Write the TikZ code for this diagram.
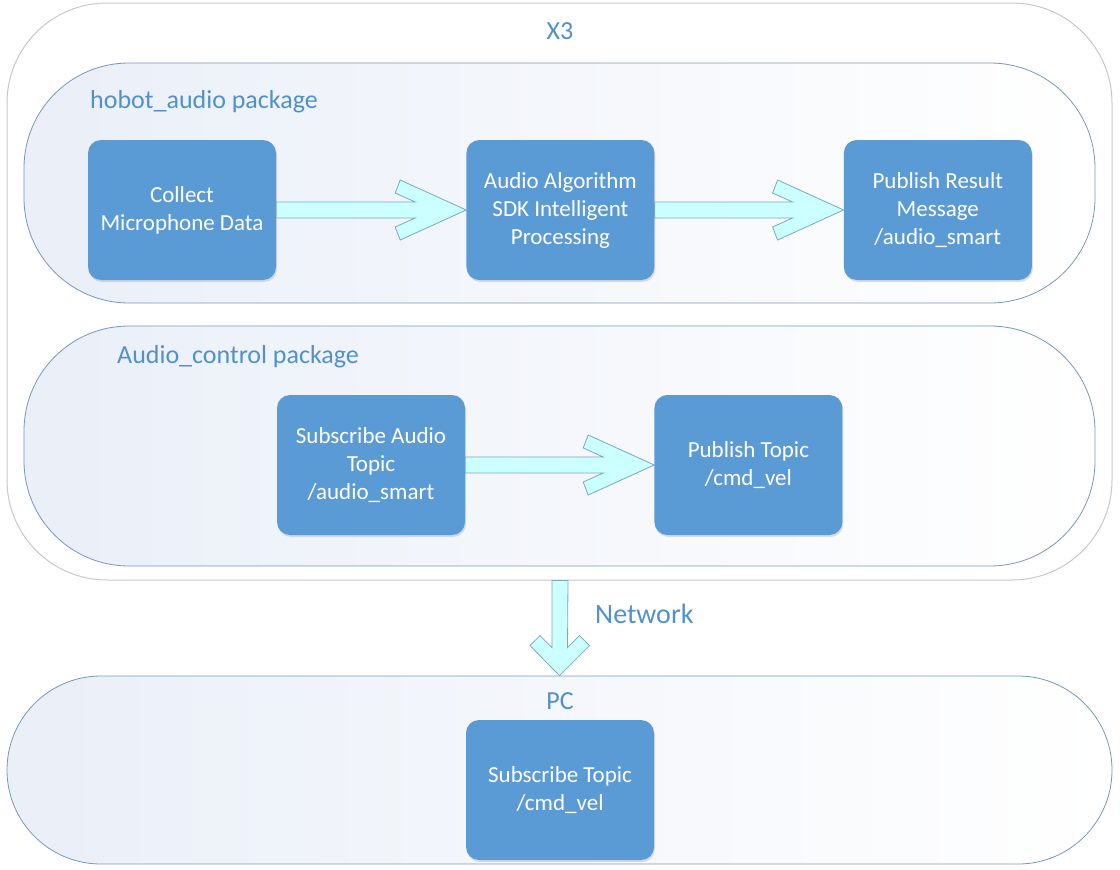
\documentclass[tikz,border=0pt]{standalone}
\usepackage{fontspec}
\setmainfont{Carlito}
\usetikzlibrary{positioning, calc, shadows}

\definecolor{boxblue}{RGB}{91,155,213}
\definecolor{titleblue}{RGB}{80,145,205}
\definecolor{pilledge}{RGB}{120,152,188}
\definecolor{pillfill}{RGB}{234,239,248}
\definecolor{outeredge}{RGB}{200,200,200}
\definecolor{arrowfill}{RGB}{204,255,255}
\definecolor{arrowedge}{RGB}{120,170,195}

\tikzset{
  task/.style={rectangle, rounded corners=13pt, fill=boxblue, text=white, align=center,
    minimum width=188pt, minimum height=140pt, font=\fontsize{23}{28}\selectfont,
    drop shadow={opacity=0.25, shadow xshift=1pt, shadow yshift=-2pt}},
  outerbox/.style={rectangle, rounded corners=100pt, draw=outeredge, fill=white, line width=1pt},
  pill/.style={rectangle, rounded corners=105pt, draw=pilledge, left color=pillfill, right color=white,
    line width=0.8pt, minimum width=1071pt, minimum height=240pt},
  heading/.style={text=titleblue, inner sep=0pt, font=\fontsize{26}{31}\selectfont},
  blockarrow/.style={draw=arrowedge, fill=arrowfill, line width=0.8pt, line join=miter}
}

% fat arrow from the east side of #1 to the west side of #2
\newcommand{\fatarrow}[2]{%
  \draw[blockarrow] ($(#1.east)+(0,-8)$) -- ($(#2.west)+(-51,-8)$) -- ++(-20,-9) -- ++(5,-13)
    -- (#2.west) -- ++(-66,30) -- ++(-5,-13) -- ++(20,-9) -- ($(#1.east)+(0,8)$) -- cycle;}

\begin{document}
\begin{tikzpicture}[x=1pt, y=-1pt]
    \useasboundingbox (0,0) rectangle (1120,870);

    %containers
    \node[outerbox, minimum width=1105pt, minimum height=577pt] (x3) at (559.5,291.5) {};
    \node[pill] (hobot) at (559.5,183) {};
    \node[pill] (ctrl) at (559.5,446) {};
    \node[pill, minimum width=1105pt, minimum height=188pt, rounded corners=94pt] (pcbox) at (559.5,770) {};

    %headings
    \node[heading] (x3title) at (560,31) {X3};
    \node[heading, anchor=west] (hobottitle) at (90,102) {hobot\_audio package};
    \node[heading, anchor=west] (ctrltitle) at (117,357) {Audio\_control package};
    \node[heading] (pctitle) at (560,701) {PC};

    %define the steps
    \node[task] (collect) at (182,210) {Collect\\Microphone Data};
    \node[task, right=190pt of collect] (algo) {Audio Algorithm\\SDK Intelligent\\Processing};
    \node[task, right=189pt of algo] (result) {Publish Result\\Message\\/audio\_smart};
    \node[task] (subaudio) at (371,465) {Subscribe Audio\\Topic\\/audio\_smart};
    \node[task, right=189pt of subaudio] (pubtopic) {Publish Topic\\/cmd\_vel};
    \node[task] (subtopic) at (560,790) {Subscribe Topic\\/cmd\_vel};

    %define the links
    \fatarrow{collect}{algo}
    \fatarrow{algo}{result}
    \fatarrow{subaudio}{pubtopic}

    \draw[blockarrow] ($(x3.south)+(-7.5,0)$) -- ($(pcbox.north)+(-7.5,-28)$) -- ++(-12,-12) -- ++(-10,10)
        -- (pcbox.north) -- ++(30,-30) -- ++(-10,-10) -- ++(-12,12) -- ($(x3.south)+(8.5,0)$) -- cycle;
    \node[heading, anchor=west, font=\fontsize{28}{33}\selectfont] (network) at (595,614) {Network};
\end{tikzpicture}
\end{document}
